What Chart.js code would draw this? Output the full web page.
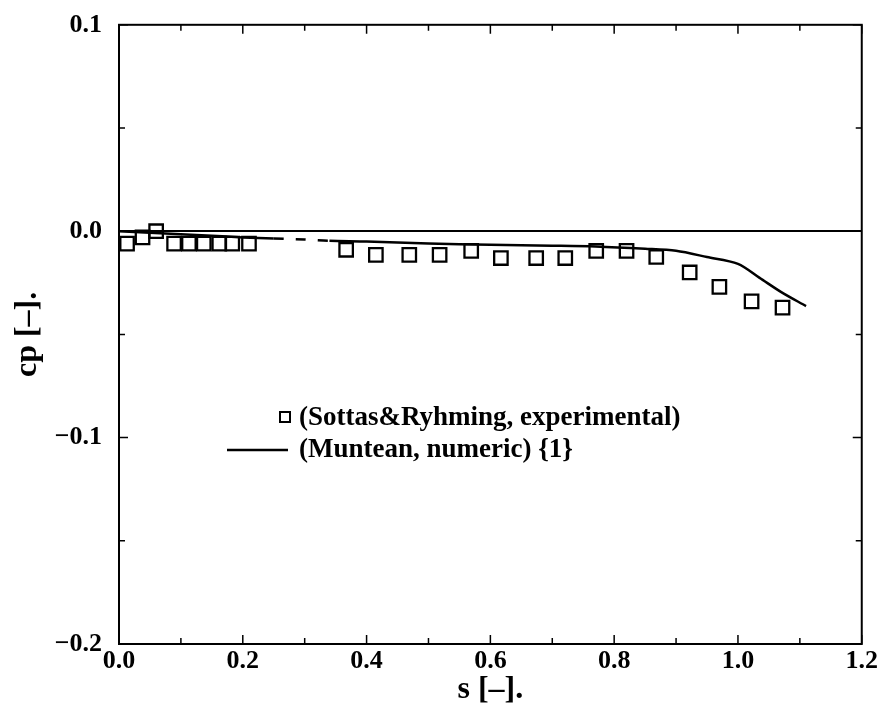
<!DOCTYPE html>
<html>
<head>
<meta charset="utf-8">
<script src="https://cdn.jsdelivr.net/npm/chart.js@4/dist/chart.umd.min.js"></script>
<style>
  html, body { margin: 0; padding: 0; background: #fff; }
  #wrap { width: 880px; height: 705px; }
</style>
</head>
<body>
<div id="wrap"><canvas id="cpChart" width="880" height="705"></canvas></div>
<script>
  // experimental points (Sottas & Ryhming)
  const expS = [0.013, 0.038, 0.060, 0.089, 0.113, 0.137, 0.162, 0.183, 0.210, 0.367, 0.415, 0.469,
                0.518, 0.569, 0.617, 0.674, 0.721, 0.771, 0.820, 0.868, 0.922, 0.970, 1.022, 1.072];
  const expCp = [-0.006, -0.003, 0.000, -0.006, -0.006, -0.006, -0.006, -0.006, -0.006, -0.009, -0.0115, -0.0115,
                 -0.0115, -0.0095, -0.013, -0.013, -0.013, -0.0095, -0.0095, -0.0125, -0.020, -0.027, -0.034, -0.037];

  // numeric curve (Muntean)
  const numS = [0, 0.05, 0.10, 0.15, 0.20, 0.25, 0.30, 0.34, 0.40, 0.50, 0.60, 0.70, 0.77, 0.85, 0.90,
                0.95, 1.00, 1.035, 1.07, 1.11];
  const numCp = [0, -0.0008, -0.0015, -0.0022, -0.003, -0.0035, -0.004, -0.0046, -0.005, -0.006, -0.0066, -0.007,
                 -0.0074, -0.0085, -0.0095, -0.0125, -0.0158, -0.0226, -0.0295, -0.0363];

  const seriesLabels = ['(Sottas&Ryhming, experimental)', '(Muntean, numeric) {1}'];

  const xTicks = [0, 0.2, 0.4, 0.6, 0.8, 1.0, 1.2];
  const xTickLabels = ['0.0', '0.2', '0.4', '0.6', '0.8', '1.0', '1.2'];
  const yTicks = [-0.2, -0.1, 0, 0.1];
  const yTickLabels = ['\u22120.2', '\u22120.1', '0.0', '0.1'];

  const serif = '"Liberation Serif", "DejaVu Serif", serif';

  function labelFor(v, ticks, labels) {
    const i = ticks.findIndex(t => Math.abs(t - v) < 1e-6);
    return i >= 0 ? labels[i] : '';
  }

  // frame + inward ticks on all four sides
  const framePlugin = {
    id: 'frame',
    afterDatasetsDraw(chart) {
      const { ctx, chartArea: a, scales } = chart;
      const xs = scales.x, ys = scales.y;
      ctx.save();
      ctx.strokeStyle = '#000';
      ctx.lineWidth = 2;
      ctx.strokeRect(a.left, a.top, a.right - a.left, a.bottom - a.top);
      ctx.lineWidth = 1.5;
      ctx.beginPath();
      for (let k = 0; k <= 12; k++) {
        const px = xs.getPixelForValue(k / 10);
        const len = k % 2 === 0 ? 9 : 6;
        ctx.moveTo(px, a.bottom); ctx.lineTo(px, a.bottom - len);
        ctx.moveTo(px, a.top); ctx.lineTo(px, a.top + len);
      }
      for (let k = -4; k <= 2; k++) {
        const py = ys.getPixelForValue(k / 20);
        const len = k % 2 === 0 ? 9 : 6;
        ctx.moveTo(a.left, py); ctx.lineTo(a.left + len, py);
        ctx.moveTo(a.right, py); ctx.lineTo(a.right - len, py);
      }
      ctx.stroke();
      ctx.restore();
    }
  };

  // legend drawn inside the plot
  const innerLegend = {
    id: 'innerLegend',
    afterDraw(chart) {
      const { ctx } = chart;
      const ds = chart.data.datasets;
      ctx.save();
      ctx.font = 'bold 27px ' + serif;
      ctx.fillStyle = '#000';
      ctx.textBaseline = 'middle';
      // square marker
      ctx.strokeStyle = '#000';
      ctx.lineWidth = 2;
      ctx.strokeRect(280, 412, 10, 10);
      ctx.fillText(ds[0].label, 299, 418);
      // line marker
      ctx.lineWidth = 2.5;
      ctx.beginPath();
      ctx.moveTo(227, 450); ctx.lineTo(288, 450);
      ctx.stroke();
      ctx.fillText(ds[1].label, 299, 450);
      ctx.restore();
    }
  };

  const ctxcp = document.getElementById('cpChart').getContext('2d');
  const cpChart = new Chart(ctxcp, {
    type: 'scatter',
    data: {
      datasets: [{
        label: seriesLabels[0],
        data: expS.map((s, i) => ({ x: s, y: expCp[i] })),
        pointStyle: 'rect',
        pointRadius: 9.5,
        pointBorderWidth: 2.3,
        pointBackgroundColor: 'rgba(255,255,255,0)',
        pointBorderColor: '#000',
        showLine: false,
        order: 1
      }, {
        label: seriesLabels[1],
        data: numS.map((s, i) => ({ x: s, y: numCp[i] })),
        showLine: true,
        borderColor: '#000',
        borderWidth: 2.5,
        pointRadius: 0,
        tension: 0.3,
        segment: {
          borderDash: c => (c.p0.parsed.x >= 0.249 && c.p1.parsed.x <= 0.341) ? [10, 12] : undefined
        },
        order: 2
      }]
    },
    plugins: [framePlugin, innerLegend],
    options: {
      responsive: false,
      animation: false,
      layout: { padding: { top: 22, right: 18, left: 0, bottom: 0 } },
      scales: {
        x: {
          type: 'linear',
          min: 0,
          max: 1.2,
          afterBuildTicks: s => { s.ticks = xTicks.map(v => ({ value: v })); },
          afterFit: s => { s.height = 61; },
          grid: { display: false, drawTicks: false },
          border: { display: false },
          ticks: {
            color: '#000',
            padding: 2,
            maxRotation: 0,
            font: { family: serif, size: 26, weight: 'bold' },
            callback: v => labelFor(v, xTicks, xTickLabels)
          },
          title: {
            display: true,
            text: 's [\u2013].',
            color: '#000',
            padding: { top: -6, bottom: -4 },
            font: { family: serif, size: 32, weight: 'bold' }
          }
        },
        y: {
          type: 'linear',
          min: -0.2,
          max: 0.1,
          afterBuildTicks: s => { s.ticks = yTicks.map(v => ({ value: v })); },
          afterFit: s => { s.width = 119; },
          grid: {
            drawTicks: false,
            lineWidth: 2,
            color: c => (c.tick && Math.abs(c.tick.value) < 1e-9) ? '#000' : 'rgba(0,0,0,0)'
          },
          border: { display: false },
          ticks: {
            color: '#000',
            padding: 17,
            font: { family: serif, size: 26, weight: 'bold', lineHeight: 0.6 },
            callback: v => labelFor(v, yTicks, yTickLabels)
          },
          title: {
            display: true,
            text: 'cp [\u2013].',
            color: '#000',
            padding: { top: 9, bottom: 0 },
            font: { family: serif, size: 32, weight: 'bold' }
          }
        }
      },
      plugins: {
        legend: { display: false },
        tooltip: { enabled: false }
      }
    }
  });
</script>
</body>
</html>
